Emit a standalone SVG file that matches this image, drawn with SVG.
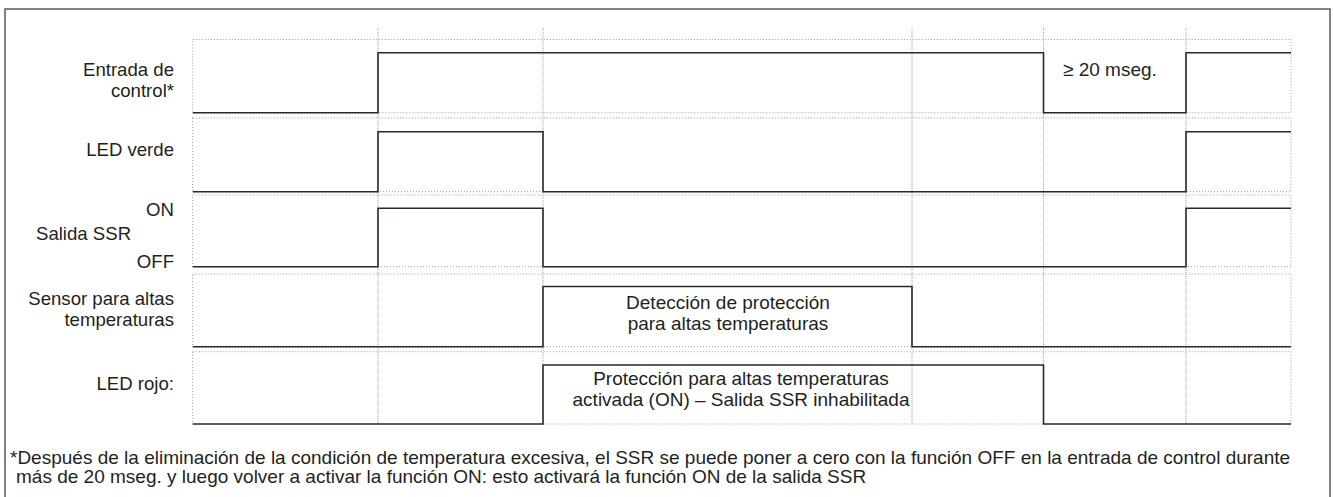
<svg xmlns="http://www.w3.org/2000/svg" width="1333" height="497" viewBox="0 0 1333 497">
<style>
  text { font-family: "Liberation Sans", Arial, Helvetica, sans-serif; font-size: 19px; fill: #231f20; }
  .lbl { text-anchor: end; font-size: 18.6px; }
  .mid { text-anchor: middle; }
  .box { fill: none; stroke: #9a9a96; stroke-width: 1; stroke-dasharray: 1 2; }
  .grid { fill: none; stroke: #a4a4a0; stroke-width: 1; stroke-dasharray: 1 1; }
  .sig { fill: none; stroke: #2b2a22; stroke-width: 1.6; stroke-linejoin: miter; }
</style>
<rect x="5" y="9" width="1325" height="500" fill="#ffffff" stroke="#5a5a5a" stroke-width="1.5"/>

<g id="connectors">
  <line class="grid" x1="378" y1="28" x2="378" y2="424"/>
  <line class="grid" x1="543" y1="28" x2="543" y2="424"/>
  <line class="grid" x1="912" y1="28" x2="912" y2="424"/>
  <line class="grid" x1="1043.5" y1="28" x2="1043.5" y2="424"/>
  <line class="grid" x1="1186" y1="28" x2="1186" y2="424"/>
</g>

<g id="row-entrada">
  <rect class="box" x="192.7" y="39.5" width="1098.3" height="73.2"/>
  <path class="sig" d="M192.7,112.7 H378 V52.7 H1043.5 V112.7 H1186 V52.7 H1291"/>
  <text class="lbl" x="174" y="75.5">Entrada de</text>
  <text class="lbl" x="174" y="96.5">control*</text>
  <text x="1063" y="76">≥ 20 mseg.</text>
</g>

<g id="row-led-verde">
  <rect class="box" x="192.7" y="118" width="1098.3" height="73.7"/>
  <path class="sig" d="M192.7,191.7 H378 V131.7 H543 V191.7 H1186 V131.7 H1291"/>
  <text class="lbl" x="174" y="156">LED verde</text>
</g>

<g id="row-salida-ssr">
  <rect class="box" x="192.7" y="195" width="1098.3" height="71.7"/>
  <path class="sig" d="M192.7,266.7 H378 V208.3 H543 V266.7 H1186 V208.3 H1291"/>
  <text class="lbl" x="174" y="216">ON</text>
  <text x="36" y="240" style="font-size:18.6px">Salida SSR</text>
  <text class="lbl" x="174" y="268">OFF</text>
</g>

<g id="row-sensor">
  <rect class="box" x="192.7" y="274" width="1098.3" height="72.7"/>
  <path class="sig" d="M192.7,346.7 H543 V286.5 H912 V346.7 H1291"/>
  <text class="lbl" x="174" y="305">Sensor para altas</text>
  <text class="lbl" x="174" y="326">temperaturas</text>
  <text class="mid" x="728" y="309">Detección de protección</text>
  <text class="mid" x="728" y="330">para altas temperaturas</text>
</g>

<g id="row-led-rojo">
  <rect class="box" x="192.7" y="351.7" width="1098.3" height="72.3"/>
  <path class="sig" d="M192.7,424 H543 V365 H1043.5 V424 H1291"/>
  <text class="lbl" x="174" y="390">LED rojo:</text>
  <text class="mid" x="741" y="385">Protección para altas temperaturas</text>
  <text class="mid" x="741" y="406">activada (ON) – Salida SSR inhabilitada</text>
</g>

<g id="footnote">
  <text x="10" y="464">*Después de la eliminación de la condición de temperatura excesiva, el SSR se puede poner a cero con la función OFF en la entrada de control durante</text>
  <text x="16" y="483">más de 20 mseg. y luego volver a activar la función ON: esto activará  la función ON de la salida SSR</text>
</g>
</svg>
